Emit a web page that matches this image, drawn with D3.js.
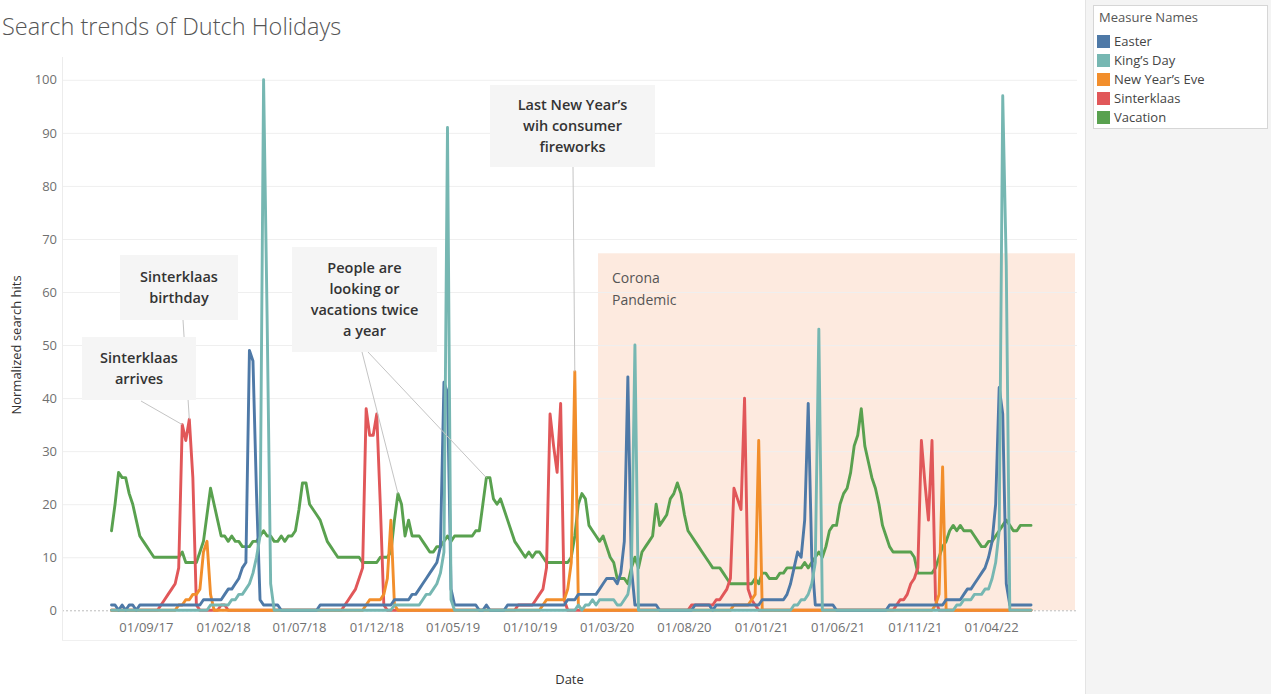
<!DOCTYPE html>
<html><head><meta charset="utf-8">
<script src="https://cdn.jsdelivr.net/npm/d3@7"></script>
<style>
body{margin:0;background:#fff;}
svg{display:block;font-family:"Open Sans",sans-serif;}
</style></head>
<body><svg id="chart" width="1271" height="694"></svg>
<script>
// ---------- DATA ----------
const firstWeek = "2017-06-25";          // weekly series start (Sundays)
const seriesNames = ["Easter", "King’s Day", "New Year’s Eve", "Sinterklaas", "Vacation"];
const seriesColors = ["#4e79a7", "#76b7b2", "#f28e2b", "#e15759", "#59a14f"];

const easter = [
 1,1,0,1,0,1,1,0,1,1, 1,1,1,1,1,1,1,1,1,1, 1,1,1,1,1,1,2,2,2,2, 2,2,3,4,4,5,6,8,9,49,
 47,22,2,1,1,1,1,1,0,0, 0,0,0,0,0,0,0,0,0,1, 1,1,1,1,1,1,1,1,1,1, 1,1,1,1,1,1,1,1,1,1,
 2,2,2,2,2,3,3,4,5,6, 7,8,9,12,43,41,4,1,1,1, 1,1,1,1,0,0,1,0,0,0, 0,0,1,1,1,1,1,1,1,1,
 1,1,1,1,1,1,1,1,1,2, 2,2,3,3,3,3,3,3,4,5, 6,6,6,5,7,13,44,8,1,1, 1,1,1,1,1,0,0,0,0,0,
 0,0,0,0,0,1,1,1,1,1, 0,1,1,1,1,1,1,1,1,1, 1,1,1,1,2,2,2,2,2,2, 2,3,5,8,11,10,17,39,10,1,
 1,1,1,1,1,0,0,0,0,0, 0,0,0,0,0,0,0,0,0,0, 1,1,1,1,1,1,1,1,1,1, 1,1,1,1,1,1,2,2,2,2,
 2,3,4,4,5,6,7,8,10,13, 20,42,37,5,1,1,1,1,1,1, 1];
const kingsDay = [
 0,0,0,0,0,0,0,0,0,0, 0,0,0,0,0,0,0,0,0,0, 0,0,0,0,0,0,0,0,1,1, 1,1,1,1,2,2,3,3,4,5,
 7,10,14,100,55,5,0,0,0,0, 0,0,0,0,0,0,0,0,0,0, 0,0,0,0,0,0,0,0,0,0, 0,0,0,0,0,0,0,0,0,0,
 1,1,1,1,1,1,1,1,2,3, 3,4,5,7,11,91,2,0,0,0, 0,0,0,0,0,0,0,0,0,0, 0,0,0,0,0,0,0,0,0,0,
 0,0,0,0,0,0,0,0,0,0, 0,0,1,0,1,1,2,1,2,2, 2,2,2,1,1,2,3,7,50,0, 0,0,0,0,0,0,0,0,0,0,
 0,0,0,0,0,0,0,0,0,0, 0,0,0,0,0,0,0,0,0,0, 0,0,0,0,0,0,0,0,0,0, 0,0,0,1,1,2,2,3,5,9,
 53,0,0,0,0,0,0,0,0,0, 0,0,0,0,0,0,0,0,0,0, 0,0,0,0,0,0,0,0,0,0, 0,0,0,0,0,0,0,0,0,1,
 1,2,2,2,3,3,3,4,4,6, 9,15,97,65,0,0,0,0,0,0, 0];
const newYearsEve = [
 0,0,0,0,0,0,0,0,0,0, 0,0,0,0,0,0,0,0,0,1, 1,2,2,3,3,4,11,13,3,0, 0,0,0,0,0,0,0,0,0,0,
 0,0,0,0,0,0,0,0,0,0, 0,0,0,0,0,0,0,0,0,0, 0,0,0,0,0,0,0,0,0,0, 0,0,1,2,2,2,2,3,6,17,
 1,0,0,0,0,0,0,0,0,0, 0,0,0,0,0,0,0,0,0,0, 0,0,0,0,0,0,0,0,0,0, 0,0,0,0,0,0,0,0,0,0,
 0,0,1,2,2,2,2,2,2,4, 9,45,1,0,0,0,0,0,0,0, 0,0,0,0,0,0,0,0,0,0, 0,0,0,0,0,0,0,0,0,0,
 0,0,0,0,0,0,0,0,0,0, 0,0,0,0,0,0,1,1,1,1, 1,2,3,32,0,0,0,0,0,0, 0,0,0,0,0,0,0,0,0,0,
 0,0,0,0,0,0,0,0,0,0, 0,0,0,0,0,0,0,0,0,0, 0,0,0,0,0,0,0,0,0,0, 0,0,0,1,3,27,0,0,0,0,
 0,0,0,0,0,0,0,0,0,0, 0,0,0,0,0,0,0,0,0,0, 0];
const sinterklaas = [
 0,0,0,0,0,0,0,0,0,0, 0,0,0,0,1,2,3,4,5,8, 35,32,36,25,1,0,0,0,0,0, 0,1,1,0,0,0,0,0,0,0,
 0,0,0,0,0,0,0,0,0,0, 0,0,0,0,0,0,0,0,0,0, 0,0,0,0,0,0,1,2,3,4, 6,8,38,33,33,37,20,1,0,0,
 0,0,0,0,0,0,0,0,0,0, 0,0,0,0,0,0,0,0,0,0, 0,0,0,0,0,0,0,0,0,0, 0,0,0,0,0,1,1,1,1,1,
 2,3,4,8,37,31,26,39,2,0, 0,0,0,0,0,0,0,0,0,0, 0,0,0,0,0,0,0,0,0,0, 0,0,0,0,0,0,0,0,0,0,
 0,0,0,0,1,1,1,1,1,1, 1,2,2,3,4,6,23,21,19,40, 4,2,1,0,0,0,0,0,0,0, 0,0,0,0,0,0,0,0,0,0,
 0,0,0,0,0,0,0,0,0,0, 0,0,0,0,0,0,0,0,0,0, 0,0,1,2,2,3,5,6,8,32, 24,17,32,2,0,0,0,0,0,0,
 0,0,0,0,0,0,0,0,0,0, 0,0,0,0,0,0,0,0,0,0, 0];
const vacation = [
 15,20,26,25,25,22,20,17,14,13, 12,11,10,10,10,10,10,10,10,10, 11,9,9,9,9,11,13,18,23,20,
 17,14,14,13,14,13,13,12,12,12, 13,13,14,15,14,14,13,13,14,13, 14,14,15,19,24,24,20,19,18,17,
 15,13,12,11,10,10,10,10,10,10, 10,9,9,9,9,9,10,10,10,11, 17,22,20,14,17,14,14,14,13,12,
 11,11,12,12,13,14,13,14,14,14, 14,14,14,15,15,20,25,25,21,20, 21,19,17,15,13,12,11,10,11,10,
 11,11,10,9,9,9,9,9,9,9, 10,14,20,22,21,16,15,14,13,14, 12,10,9,6,6,6,5,8,10,8,
 11,12,13,14,20,16,17,18,21,22, 24,22,18,15,14,13,12,11,10,9, 8,8,8,7,6,5,5,5,5,5,
 5,5,6,5,7,7,6,6,6,7, 7,8,8,8,8,8,9,8,9,10, 11,10,12,15,16,16,20,22,23,26,
 31,33,38,31,28,25,23,20,16,14, 12,11,11,11,11,11,11,10,7,7, 7,7,7,8,10,12,13,15,16,15,
 16,15,15,15,14,13,12,12,13,13, 14,15,16,17,16,15,15,16,16,16, 16];
const seriesValues = [easter, kingsDay, newYearsEve, sinterklaas, vacation];

const xTickDates = ["2017-09-01","2018-02-01","2018-07-01","2018-12-01","2019-05-01","2019-10-01",
                    "2020-03-01","2020-08-01","2021-01-01","2021-06-01","2021-11-01","2022-04-01"];
const yTicks = [0,10,20,30,40,50,60,70,80,90,100];
const xDomain = ["2017-03-19", "2022-09-18"];
const yDomain = [-5.6, 104.3];
const coronaStart = "2020-02-13";
const coronaTop = 67.3;

// ---------- LAYOUT ----------
const W = 1271, H = 694;
const plot = {left: 62, right: 1077, top: 57, bottom: 640};
const parse = d3.utcParse("%Y-%m-%d");
const x = d3.scaleUtc().domain(xDomain.map(parse)).range([plot.left, plot.right]);
const y = d3.scaleLinear().domain(yDomain).range([plot.bottom, plot.top]);
const svg = d3.select("#chart");
const start = parse(firstWeek);
const weekDate = i => d3.utcDay.offset(start, 7 * i);

// right panel
svg.append("rect").attr("x", 1085).attr("y", 0).attr("width", W - 1085).attr("height", H).attr("fill", "#f4f4f4");
svg.append("line").attr("x1", 1085.5).attr("x2", 1085.5).attr("y1", 0).attr("y2", H).attr("stroke", "#e4e4e4");

// title
svg.append("text").attr("x", 2).attr("y", 35).attr("font-size", 23.5).attr("font-weight", 300)
  .attr("fill", "#555").text("Search trends of Dutch Holidays");

// corona band
svg.append("rect")
  .attr("x", x(parse(coronaStart))).attr("y", y(coronaTop))
  .attr("width", x.range()[1] - 2 - x(parse(coronaStart)))
  .attr("height", y(0) - y(coronaTop))
  .attr("fill", "#fdeadf");
svg.append("text").attr("x", x(parse(coronaStart)) + 14).attr("y", y(coronaTop) + 30)
  .attr("font-size", 14).attr("fill", "#555")
  .selectAll("tspan").data(["Corona", "Pandemic"]).join("tspan")
  .attr("x", x(parse(coronaStart)) + 14).attr("dy", (d, i) => i ? 22 : 0).text(d => d);

// gridlines
svg.append("g").selectAll("line").data(yTicks.filter(d => d > 0)).join("line")
  .attr("x1", plot.left).attr("x2", plot.right).attr("y1", d => y(d) + 0.5).attr("y2", d => y(d) + 0.5)
  .attr("stroke", "#efefef");
svg.append("line").attr("x1", plot.left).attr("x2", plot.right).attr("y1", y(0) + 0.5).attr("y2", y(0) + 0.5)
  .attr("stroke", "#bdbdbd").attr("stroke-dasharray", "2,2");
svg.append("line").attr("x1", plot.left + 0.5).attr("x2", plot.left + 0.5).attr("y1", plot.top).attr("y2", plot.bottom)
  .attr("stroke", "#ececec");
svg.append("line").attr("x1", plot.left).attr("x2", plot.right).attr("y1", plot.bottom + 0.5).attr("y2", plot.bottom + 0.5)
  .attr("stroke", "#f0f0f0");

// axes
const yAxis = d3.axisLeft(y).tickValues(yTicks).tickSize(0).tickPadding(5);
const gy = svg.append("g").attr("transform", `translate(${plot.left},0)`).call(yAxis);
gy.select(".domain").remove();
gy.selectAll("text").attr("font-size", 13).attr("fill", "#707070").attr("font-family", "Open Sans");

const xAxis = d3.axisBottom(x).tickValues(xTickDates.map(parse)).tickFormat(d3.utcFormat("%d/%m/%y")).tickSize(0).tickPadding(0);
const gx = svg.append("g").attr("transform", `translate(0,${plot.bottom - 17})`).call(xAxis);
gx.select(".domain").remove();
gx.selectAll("text").attr("font-size", 13).attr("fill", "#707070").attr("font-family", "Open Sans");

svg.append("text").attr("x", (plot.left + plot.right) / 2).attr("y", 684).attr("text-anchor", "middle")
  .attr("font-size", 13).attr("fill", "#333").text("Date");
svg.append("text").attr("transform", `translate(21,345) rotate(-90)`)
  .attr("text-anchor", "middle").attr("font-size", 13).attr("fill", "#333").text("Normalized search hits");

// series lines
const line = d3.line().x((d, i) => x(weekDate(i))).y(d => y(d));
const drawOrder = [4, 3, 2, 0, 1];
svg.append("g").selectAll("path").data(drawOrder).join("path")
  .attr("d", k => line(seriesValues[k]))
  .attr("fill", "none").attr("stroke", k => seriesColors[k])
  .attr("stroke-width", 2.9).attr("stroke-linejoin", "round").attr("stroke-linecap", "round");

// annotations
const annotations = [
  {lines: ["Sinterklaas", "birthday"], box: [120, 255, 118, 65], from: [[183, 320]], targets: [[3, 22]]},
  {lines: ["Sinterklaas", "arrives"], box: [82, 337, 114, 63], from: [[141, 401]], targets: [[3, 20]]},
  {lines: ["People are", "looking or", "vacations twice", "a year"], box: [292, 247, 145, 105],
   from: [[362, 352], [368, 352]], targets: [[4, 81], [4, 106]]},
  {lines: ["Last New Year’s", "wih consumer", "fireworks"], box: [490, 85, 165, 82], from: [[573, 167]], targets: [[2, 131]]}
];
const ag = svg.append("g");
annotations.forEach(a => {
  a.targets.forEach((t, j) => {
    ag.append("line").attr("x1", a.from[j][0]).attr("y1", a.from[j][1])
      .attr("x2", x(weekDate(t[1]))).attr("y2", y(seriesValues[t[0]][t[1]]))
      .attr("stroke", "#c4c4c4").attr("stroke-width", 1);
  });
});
annotations.forEach(a => {
  const [bx, by, bw, bh] = a.box;
  ag.append("rect").attr("x", bx).attr("y", by).attr("width", bw).attr("height", bh).attr("fill", "#f5f5f5");
  const n = a.lines.length;
  const t = ag.append("text").attr("text-anchor", "middle").attr("font-size", 14.5).attr("font-weight", 600).attr("fill", "#333");
  a.lines.forEach((l, i) => {
    t.append("tspan").attr("x", bx + bw / 2).attr("y", by + bh / 2 - (n - 1) * 10.5 + i * 21 + 5).text(l);
  });
});

// legend
const lg = svg.append("g");
lg.append("rect").attr("x", 1093.5).attr("y", 5.5).attr("width", 174).attr("height", 123).attr("fill", "#fff").attr("stroke", "#d6d6d6");
lg.append("text").attr("x", 1099).attr("y", 22).attr("font-size", 13).attr("fill", "#555").text("Measure Names");
const items = lg.selectAll("g.it").data(seriesNames).join("g").attr("class", "it")
  .attr("transform", (d, i) => `translate(1097,${35 + i * 19})`);
items.append("rect").attr("width", 13).attr("height", 13).attr("fill", (d, i) => seriesColors[i]);
items.append("text").attr("x", 17).attr("y", 11).attr("font-size", 13).attr("fill", "#444").text(d => d);
</script>
</body></html>
